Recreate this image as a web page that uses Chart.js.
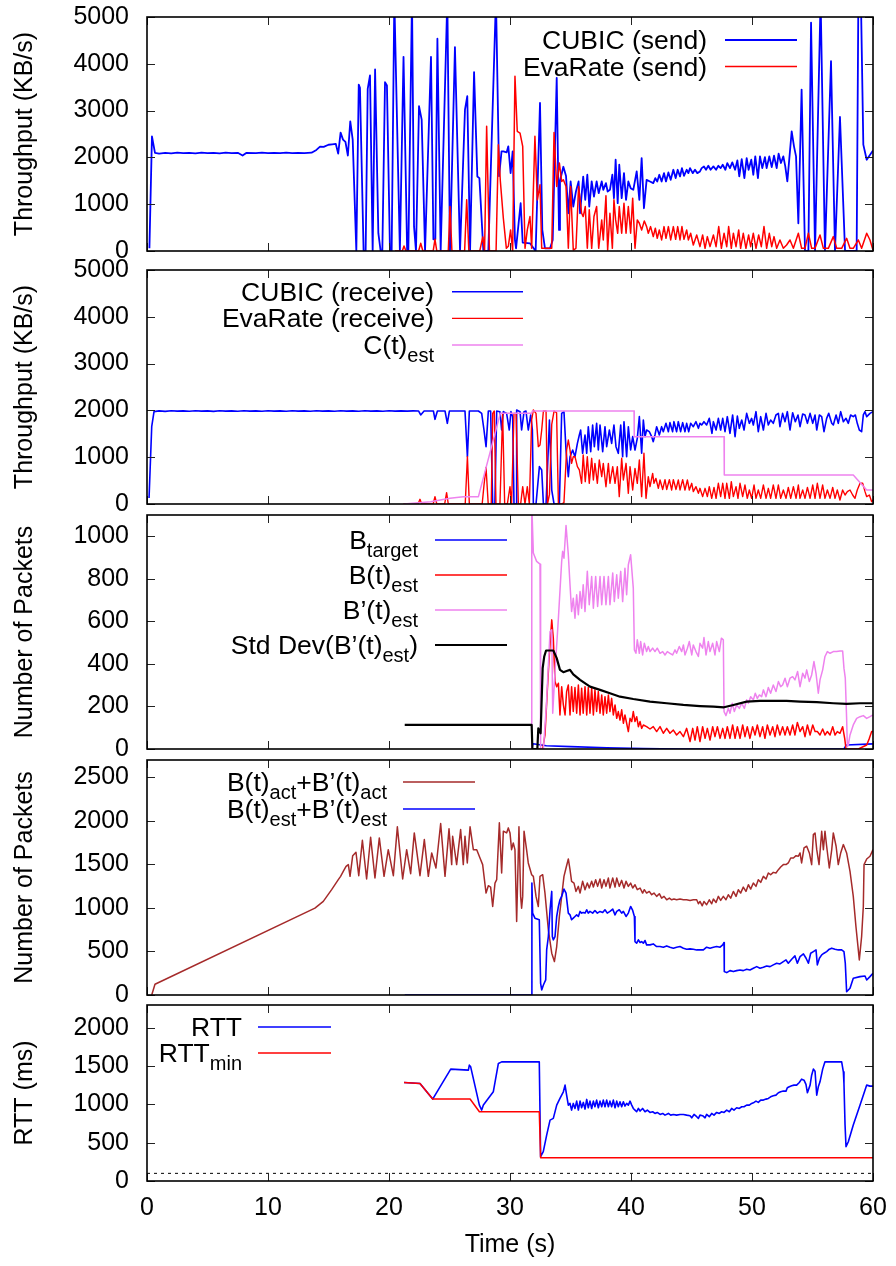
<!DOCTYPE html>
<html>
<head>
<meta charset="utf-8">
<script src="https://cdn.jsdelivr.net/npm/chart.js@4.4.1/dist/chart.umd.min.js"></script>
<style>
  html, body { margin: 0; padding: 0; background: #fff; }
  #wrap { position: relative; width: 896px; height: 1266px; overflow: hidden; }
  #wrap canvas { position: absolute; left: 0; }
</style>
</head>
<body>
<div id="wrap">
  <canvas id="p1" width="896" height="271" style="top:0px"></canvas>
  <canvas id="p2" width="896" height="274" style="top:250px"></canvas>
  <canvas id="p3" width="896" height="274" style="top:495px"></canvas>
  <canvas id="p4" width="896" height="275" style="top:740px"></canvas>
  <canvas id="p5" width="896" height="281" style="top:985px"></canvas>
</div>
<script>
// ---------- axis ticks ----------
const timeTicks = [0, 10, 20, 30, 40, 50, 60];
const yTicksThroughput = [0, 1000, 2000, 3000, 4000, 5000];
const yTicksBuffer = [0, 200, 400, 600, 800, 1000];
const yTicksSum = [0, 500, 1000, 1500, 2000, 2500];
const yTicksRtt = [0, 500, 1000, 1500, 2000];

// ---------- series: [time (s), value] ----------
// Sending rate (KB/s)
const cubicSend = [[0.2,60],[0.41,2450],[0.66,2095],[1.0,2080],[1.5,2095],[2.0,2085],[2.5,2100],[3.0,2090],[3.5,2098],[4.0,2088],[4.5,2100],[5.0,2090],[5.5,2098],[6.0,2088],[6.5,2100],[7.0,2090],[7.5,2098],[7.9,2040],[8.2,2095],[9.0,2090],[9.5,2100],[10.0,2090],[10.5,2098],[11.0,2090],[11.5,2100],[12.0,2092],[12.5,2098],[13.0,2090],[13.6,2100],[14.0,2160],[14.3,2230],[14.6,2225],[15.0,2270],[15.3,2280],[15.6,2290],[15.8,2080],[16.0,2530],[16.2,2380],[16.4,2330],[16.6,2040],[16.8,2770],[17.0,2380],[17.3,0],[17.5,3557],[17.6,3486],[17.9,0],[18.07,0],[18.24,3464],[18.43,3750],[18.65,0],[18.85,3879],[19.12,380],[19.31,0],[19.45,0],[19.67,3607],[19.83,3536],[20.08,0],[20.22,0],[20.44,5400],[20.9,0],[21.2,4150],[21.5,0],[21.6,0],[21.9,5400],[22.07,520],[22.23,0],[22.48,3093],[22.7,2807],[22.98,0],[23.47,4150],[23.67,250],[23.83,250],[24.0,4536],[24.27,0],[24.82,5400],[25.04,0],[25.45,4357],[25.87,0],[26.28,3022],[26.47,3307],[26.7,0],[27.03,3822],[27.3,1593],[27.47,1557],[27.8,0],[28.21,0],[28.84,5400],[29.1,1600],[29.3,2130],[29.45,2129],[29.72,2107],[29.86,2236],[30.05,1664],[30.22,2129],[30.41,230],[30.5,57],[30.88,1021],[31.05,179],[31.65,164],[32.12,0],[32.48,3164],[32.67,450],[32.89,57],[33.31,57],[33.53,236],[33.86,3700],[34.05,450],[34.13,1500],[34.41,1800],[34.63,1600],[34.82,807],[35.01,1486],[35.23,950],[35.45,1271],[35.67,1486],[35.79,807],[36.05,1590],[36.22,1093],[36.39,1629],[36.55,950],[36.75,1486],[36.94,1164],[37.16,1486],[37.33,1236],[37.58,1486],[37.71,1307],[37.93,1450],[38.07,1271],[38.26,1307],[38.46,1629],[38.59,1129],[38.73,1950],[38.9,1021],[39.03,1843],[39.23,1129],[39.42,1664],[39.59,1093],[39.78,1486],[39.97,1343],[40.19,1307],[40.47,1700],[40.69,1093],[40.88,1986],[41.07,914],[41.29,1521],[41.57,1486],[41.84,1450],[42.01,1557],[42.17,1486],[42.34,1629],[42.53,1486],[42.73,1664],[42.89,1486],[43.09,1679],[43.28,1521],[43.5,1736],[43.69,1557],[43.86,1736],[44.05,1593],[44.21,1771],[44.38,1607],[44.6,1736],[44.74,1664],[44.88,1771],[45.1,1664],[45.29,1736],[45.48,1664],[45.7,1700],[45.84,1771],[46.03,1807],[46.2,1736],[46.39,1821],[46.58,1736],[46.81,1807],[47.03,1736],[47.22,1821],[47.41,1771],[47.58,1843],[47.8,1736],[47.96,1879],[48.18,1771],[48.37,1893],[48.6,1736],[48.79,1936],[48.95,1593],[49.15,1964],[49.37,1557],[49.56,1986],[49.72,1736],[49.94,1950],[50.11,1629],[50.27,2021],[50.49,1557],[50.66,2021],[50.85,1771],[51.07,2007],[51.21,1771],[51.43,2021],[51.63,1793],[51.82,2036],[52.04,1771],[52.2,2079],[52.39,1879],[52.59,2021],[52.75,1807],[52.92,1486],[53.28,2557],[53.47,2236],[53.64,2021],[53.83,593],[54.1,3450],[54.38,0],[54.66,0],[54.88,4880],[55.21,0],[55.67,5400],[56.03,0],[56.53,4057],[56.86,0],[57.27,2865],[57.69,0],[58.65,0],[58.79,5400],[59.0,5400],[59.2,2272],[59.48,1950],[60.0,2150]];
const evaSend = [[20.5,0],[21.1,0],[21.24,107],[21.4,0],[22.45,0],[22.62,164],[22.8,0],[23.65,0],[23.8,250],[23.95,0],[24.9,0],[25.04,950],[25.2,0],[26.25,0],[26.42,1093],[26.6,0],[27.5,0],[27.75,300],[27.9,0],[28.07,2664],[28.3,0],[28.85,0],[29.04,2272],[29.2,1500],[29.45,700],[29.7,57],[29.86,100],[30.05,450],[30.22,0],[30.41,3736],[30.6,2557],[30.83,2520],[31.05,2236],[31.24,57],[31.43,450],[31.65,736],[31.79,57],[32.06,2450],[32.26,1093],[32.48,1414],[32.62,57],[33.45,57],[33.64,2530],[33.86,1379],[34.08,1879],[34.27,1486],[34.41,1521],[34.63,1379],[34.82,57],[35.01,1379],[35.23,21],[35.45,57],[35.67,1379],[35.92,807],[36.05,736],[36.22,950],[36.39,57],[36.55,879],[36.75,57],[36.94,736],[37.16,950],[37.33,57],[37.58,664],[37.71,236],[37.93,1179],[38.07,21],[38.26,807],[38.46,57],[38.59,1093],[38.73,664],[38.9,379],[39.03,950],[39.23,379],[39.42,1021],[39.59,379],[39.78,950],[39.97,379],[40.14,1129],[40.33,57],[40.52,664],[40.69,593],[40.88,450],[41.1,643],[41.29,521],[41.43,379],[41.62,521],[41.84,307],[42.01,486],[42.17,271],[42.34,450],[42.53,236],[42.73,521],[42.89,271],[43.09,521],[43.28,236],[43.5,521],[43.69,250],[43.86,521],[44.05,236],[44.21,521],[44.38,250],[44.6,450],[44.74,236],[44.93,379],[45.15,129],[45.43,343],[45.7,93],[45.92,343],[46.12,57],[46.31,307],[46.53,93],[46.81,343],[47.03,93],[47.25,521],[47.47,57],[47.69,379],[47.91,93],[48.07,521],[48.29,57],[48.46,379],[48.68,93],[48.9,450],[49.06,57],[49.28,379],[49.5,57],[49.72,343],[49.89,93],[50.11,379],[50.33,57],[50.55,343],[50.77,93],[50.99,521],[51.21,57],[51.43,379],[51.63,93],[51.82,307],[52.04,57],[52.31,236],[52.59,57],[52.86,129],[53.14,236],[53.42,57],[53.83,379],[54.1,57],[54.38,57],[54.66,379],[54.93,57],[55.21,57],[55.62,343],[55.9,57],[56.31,57],[56.72,307],[57.0,57],[57.41,57],[57.82,271],[58.1,57],[58.37,57],[58.79,236],[59.06,57],[59.48,379],[59.75,236],[60.0,21]];

// Receiving rate (KB/s)
const cubicRecv = [[0.17,130],[0.39,1652],[0.58,1973],[1.0,1990],[1.5,1980],[2.0,1992],[2.5,1985],[3.0,1990],[3.5,1982],[4.0,1992],[4.5,1985],[5.0,1990],[5.5,1980],[6.0,1992],[6.5,1985],[7.0,1990],[7.5,1983],[8.0,1992],[8.5,1985],[9.0,1990],[9.5,1982],[10.0,1992],[10.5,1985],[11.0,1990],[11.5,1983],[12.0,1992],[12.5,1985],[13.0,1990],[13.5,1983],[14.0,1992],[14.5,1985],[15.0,1990],[15.5,1983],[16.0,1992],[16.5,1985],[17.0,1990],[17.5,1983],[18.0,1992],[18.5,1985],[19.0,1990],[19.5,1983],[20.0,1992],[20.5,1985],[21.0,1990],[21.5,1985],[22.0,1990],[22.45,1987],[22.62,1902],[22.9,1987],[23.67,1987],[23.8,1809],[24.0,1987],[24.63,1987],[24.82,1724],[24.99,1987],[26.28,1987],[26.48,1011],[26.64,1987],[27.39,1987],[27.66,1937],[27.85,1581],[28.02,1225],[28.21,1987],[28.4,1987],[28.57,0],[28.75,0],[28.9,1987],[29.17,1973],[29.31,1581],[29.45,1973],[29.72,1937],[29.94,1581],[30.08,1973],[30.22,1866],[30.33,0],[30.5,0],[30.55,2009],[30.83,1973],[30.96,1581],[31.16,1973],[31.32,1987],[31.51,1581],[31.71,1902],[31.85,1581],[31.93,0],[32.15,0],[32.43,798],[32.62,727],[32.76,0],[32.98,0],[33.26,1795],[33.45,299],[33.64,0],[34.08,0],[34.27,1937],[34.46,1973],[34.63,1154],[34.82,584],[34.96,1011],[35.18,1154],[35.37,1011],[35.57,1296],[35.73,1475],[35.84,1581],[36.0,1083],[36.2,1475],[36.34,1083],[36.47,1652],[36.67,1118],[36.83,1688],[36.97,1225],[37.16,1724],[37.3,1154],[37.44,1688],[37.66,1118],[37.85,1652],[37.99,1225],[38.21,1581],[38.4,1296],[38.59,1688],[38.76,1225],[38.95,1083],[39.15,1688],[39.31,1011],[39.42,1759],[39.64,1011],[39.78,1652],[39.97,1154],[40.14,1439],[40.33,1154],[40.52,1403],[40.69,1866],[40.88,1083],[41.02,1795],[41.16,1439],[41.29,1581],[41.51,1545],[41.71,1439],[41.84,1332],[41.98,1475],[42.12,1652],[42.34,1475],[42.53,1652],[42.67,1545],[42.89,1724],[43.09,1545],[43.22,1738],[43.44,1545],[43.55,1759],[43.77,1545],[43.91,1759],[44.1,1545],[44.27,1738],[44.46,1545],[44.6,1724],[44.77,1545],[44.93,1724],[45.15,1652],[45.37,1759],[45.57,1617],[45.7,1724],[45.84,1688],[46.03,1759],[46.25,1688],[46.47,1830],[46.69,1510],[46.81,1759],[47.03,1581],[47.22,1830],[47.41,1581],[47.58,1830],[47.77,1545],[47.96,1866],[48.18,1510],[48.4,1902],[48.6,1439],[48.79,1880],[48.95,1617],[49.15,1795],[49.34,1581],[49.56,1937],[49.78,1724],[49.97,1830],[50.11,1688],[50.33,1973],[50.52,1545],[50.72,1866],[50.94,1581],[51.16,1937],[51.35,1688],[51.54,1795],[51.76,1724],[51.98,1902],[52.18,1937],[52.31,1652],[52.53,1937],[52.73,1759],[52.92,1973],[53.14,1581],[53.36,1951],[53.58,1759],[53.8,1902],[53.97,1652],[54.19,1923],[54.38,1902],[54.58,1724],[54.8,1937],[55.02,1724],[55.21,1902],[55.35,1581],[55.57,1902],[55.76,1866],[55.95,1545],[56.17,1830],[56.34,1937],[56.59,1724],[56.72,1688],[56.95,1902],[57.13,1724],[57.33,1973],[57.55,1759],[57.77,1830],[57.96,1724],[58.15,1902],[58.37,1866],[58.54,1902],[58.7,1724],[58.87,1581],[59.06,1545],[59.2,1902],[59.34,1973],[59.48,1866],[59.75,1937],[60.0,1973]];
const evaRecv = [[21.2,0],[22.4,0],[22.56,100],[22.7,0],[23.65,0],[23.8,157],[23.95,0],[24.6,0],[24.76,243],[24.9,0],[26.3,0],[26.48,1011],[26.64,0],[27.7,0],[27.85,400],[28.02,780],[28.2,0],[28.45,0],[28.57,1937],[28.7,1987],[28.84,0],[29.17,0],[29.39,1937],[29.56,0],[29.78,0],[30.0,370],[30.13,0],[30.33,1937],[30.5,1937],[30.69,0],[30.88,0],[31.05,370],[31.24,0],[31.43,370],[31.6,0],[31.79,1795],[31.93,2009],[32.15,1937],[32.34,1225],[32.48,1260],[32.62,1581],[32.76,1987],[32.98,1987],[33.1,0],[33.26,200],[33.45,1700],[33.64,1987],[33.85,1950],[34.0,0],[34.27,0],[34.46,30],[34.68,1154],[34.82,1367],[34.96,1154],[35.09,869],[35.23,1011],[35.37,1011],[35.57,798],[35.73,727],[35.92,442],[36.05,1047],[36.22,477],[36.39,1011],[36.55,442],[36.75,976],[36.89,513],[37.02,869],[37.22,442],[37.38,940],[37.58,584],[37.71,869],[37.93,370],[38.13,869],[38.26,442],[38.49,798],[38.68,442],[38.87,798],[39.03,157],[39.23,976],[39.37,513],[39.59,869],[39.78,228],[39.92,798],[40.14,299],[40.33,762],[40.52,442],[40.69,940],[40.88,157],[41.07,1083],[41.24,121],[41.43,584],[41.57,370],[41.79,655],[41.9,442],[42.06,548],[42.26,335],[42.4,513],[42.62,311],[42.81,520],[42.95,311],[43.17,520],[43.36,299],[43.5,520],[43.72,311],[43.91,513],[44.05,299],[44.27,520],[44.46,299],[44.66,513],[44.82,299],[45.02,442],[45.15,264],[45.37,370],[45.57,228],[45.7,335],[45.92,157],[46.12,335],[46.31,157],[46.47,370],[46.67,121],[46.86,356],[47.03,121],[47.22,442],[47.41,157],[47.58,442],[47.77,121],[47.91,442],[48.13,121],[48.29,477],[48.46,157],[48.68,370],[48.84,121],[49.01,442],[49.23,157],[49.42,406],[49.61,121],[49.78,299],[49.97,121],[50.17,406],[50.33,121],[50.52,299],[50.72,121],[50.94,406],[51.16,121],[51.35,335],[51.54,121],[51.76,406],[51.98,121],[52.18,406],[52.37,121],[52.59,299],[52.81,121],[53.0,356],[53.2,121],[53.42,370],[53.64,121],[53.83,406],[53.97,121],[54.19,299],[54.38,121],[54.58,356],[54.8,121],[55.02,406],[55.21,121],[55.4,442],[55.62,121],[55.84,406],[56.03,121],[56.23,299],[56.45,121],[56.67,356],[56.86,121],[57.05,299],[57.27,85],[57.49,299],[57.69,192],[57.88,264],[58.1,299],[58.32,192],[58.51,121],[58.7,299],[58.93,442],[59.15,442],[59.34,264],[59.48,157],[59.7,192],[59.89,50],[60.0,85]];
const capEst = [[21.24,0],[23.45,50],[25.04,121],[26.14,157],[27.39,157],[29.2,1937],[31.79,1937],[31.85,1987],[40.25,1987],[40.27,1439],[47.69,1439],[47.71,620],[58.37,620],[59.48,299],[60.0,299]];

// Buffer estimates (packets)
const bTarget = [[31.8,0],[31.9,25],[33.0,15],[35.0,11],[38.0,6],[41.0,2],[44.0,0],[57.6,0],[57.8,19],[60.0,24]];
const bEst = [[32.26,0],[32.7,0],[32.89,66],[33.08,270],[33.25,442],[33.45,607],[33.53,552],[33.58,521],[33.72,317],[33.86,293],[34.0,309],[34.13,160],[34.27,293],[34.41,207],[34.55,160],[34.68,270],[34.82,301],[34.96,160],[35.09,293],[35.23,176],[35.37,289],[35.51,168],[35.65,301],[35.79,160],[35.92,286],[36.05,168],[36.2,293],[36.34,160],[36.47,289],[36.61,168],[36.75,286],[36.89,160],[37.02,278],[37.16,176],[37.3,270],[37.44,168],[37.58,254],[37.71,160],[37.85,246],[37.99,168],[38.13,254],[38.26,176],[38.4,238],[38.54,160],[38.68,207],[38.82,144],[38.95,176],[39.09,136],[39.23,184],[39.37,121],[39.5,160],[39.64,121],[39.78,82],[39.92,144],[40.06,129],[40.19,176],[40.33,129],[40.47,152],[40.61,105],[40.75,129],[40.88,97],[41.02,113],[41.29,105],[41.57,94],[41.84,105],[42.12,82],[42.4,105],[42.67,74],[42.95,97],[43.22,74],[43.5,89],[43.77,66],[44.05,82],[44.33,58],[44.6,97],[44.88,35],[45.1,97],[45.29,42],[45.48,105],[45.7,35],[45.92,105],[46.12,50],[46.31,97],[46.53,42],[46.75,105],[46.94,58],[47.14,105],[47.36,50],[47.58,97],[47.77,50],[47.96,105],[48.18,50],[48.4,113],[48.6,50],[48.79,105],[49.01,50],[49.23,113],[49.42,58],[49.61,105],[49.83,50],[50.05,105],[50.25,66],[50.44,113],[50.66,58],[50.88,105],[51.07,50],[51.27,113],[51.49,66],[51.71,105],[51.9,58],[52.09,113],[52.31,66],[52.53,105],[52.73,66],[52.92,105],[53.14,66],[53.36,113],[53.55,66],[53.75,125],[53.97,82],[54.19,105],[54.38,58],[54.58,113],[54.8,66],[55.02,113],[55.21,82],[55.4,82],[55.62,66],[55.84,94],[56.03,66],[56.23,82],[56.45,66],[56.67,105],[56.86,66],[57.05,82],[57.27,74],[57.49,105],[57.66,50],[57.77,0],[58.79,0],[59.48,19],[59.7,50],[59.89,82],[60.0,82]];
const bPrimeEst = [[31.78,0],[31.8,1150],[31.93,921],[32.2,882],[32.48,869],[32.53,0],[32.76,0],[33.0,200],[33.31,552],[33.45,560],[33.53,168],[33.72,364],[34.0,615],[34.27,882],[34.35,929],[34.46,897],[34.63,1051],[34.82,913],[34.96,772],[35.09,646],[35.23,709],[35.37,615],[35.51,725],[35.65,631],[35.79,740],[35.92,662],[36.05,772],[36.2,646],[36.39,835],[36.55,678],[36.75,811],[36.89,662],[37.08,811],[37.24,670],[37.44,811],[37.58,678],[37.77,811],[37.93,678],[38.13,811],[38.26,678],[38.49,827],[38.62,693],[38.82,819],[38.95,709],[39.15,835],[39.31,693],[39.5,850],[39.64,725],[39.78,866],[39.97,913],[40.19,756],[40.28,466],[40.41,450],[40.52,513],[40.69,450],[40.8,505],[40.96,442],[41.1,497],[41.29,458],[41.43,482],[41.57,458],[41.79,474],[41.98,458],[42.17,474],[42.4,450],[42.62,458],[42.81,442],[43.0,458],[43.22,450],[43.44,442],[43.64,466],[43.77,450],[43.99,482],[44.19,458],[44.33,489],[44.46,442],[44.66,474],[44.82,505],[45.02,442],[45.15,489],[45.37,458],[45.57,435],[45.7,497],[45.92,474],[46.03,524],[46.2,442],[46.39,505],[46.53,458],[46.75,497],[46.94,442],[47.08,505],[47.3,458],[47.47,521],[47.63,513],[47.69,176],[47.85,157],[48.04,191],[48.18,168],[48.37,215],[48.54,176],[48.73,207],[48.95,191],[49.15,215],[49.37,191],[49.56,231],[49.7,215],[49.89,246],[50.11,231],[50.27,262],[50.44,238],[50.61,254],[50.8,246],[50.94,278],[51.16,246],[51.35,289],[51.54,262],[51.76,301],[51.98,270],[52.18,317],[52.37,293],[52.53,301],[52.73,333],[52.92,293],[53.14,333],[53.36,340],[53.55,325],[53.77,364],[53.97,293],[54.19,356],[54.38,333],[54.52,372],[54.74,317],[54.93,348],[55.12,411],[55.29,356],[55.48,262],[55.62,325],[55.84,372],[56.03,435],[56.23,458],[56.45,450],[56.72,458],[56.99,458],[57.27,461],[57.49,461],[57.6,380],[57.71,333],[57.82,144],[57.88,11],[57.96,19],[58.1,66],[58.37,113],[58.65,144],[58.93,152],[59.2,157],[59.48,144],[59.75,152],[60.0,160]];
const bPrimeStd = [[21.3,113],[31.79,113],[31.85,0],[32.26,0],[32.34,97],[32.53,74],[32.7,380],[32.83,435],[32.98,463],[33.58,463],[33.86,427],[34.13,372],[34.41,361],[34.68,367],[34.96,372],[35.23,351],[35.79,325],[36.61,293],[37.44,278],[38.26,262],[39.09,246],[40.19,235],[41.57,223],[42.95,215],[44.33,207],[45.7,202],[46.81,199],[47.69,196],[48.46,207],[49.56,223],[50.66,226],[51.76,226],[52.86,226],[53.97,223],[55.35,220],[56.72,215],[57.82,212],[58.93,215],[60.0,215]];

// Total buffered packets
const sumAct = [[0.39,0],[0.66,123],[13.88,998],[14.57,1075],[15.26,1210],[15.81,1325],[16.0,1363],[16.22,1421],[16.45,1478],[16.64,1498],[16.78,1363],[17.0,1601],[17.27,1640],[17.5,1371],[17.8,1778],[18.15,1333],[18.48,1813],[18.84,1344],[19.2,1805],[19.59,1363],[19.94,1670],[20.36,1371],[20.69,1932],[21.13,1333],[21.46,1670],[21.79,1394],[22.09,1862],[22.56,1371],[22.92,1786],[23.25,1363],[23.53,1632],[23.88,1459],[24.27,1970],[24.63,1363],[24.96,1909],[25.18,1498],[25.26,1824],[25.59,1498],[25.92,1901],[26.14,1498],[26.28,1824],[26.47,1517],[26.7,1932],[26.97,1670],[27.25,1670],[27.52,1574],[27.74,1498],[28.02,1171],[28.21,1256],[28.4,1240],[28.57,1017],[28.76,1286],[28.9,1325],[29.12,1978],[29.31,1402],[29.45,1882],[29.72,1862],[29.86,1920],[30.0,1862],[30.13,1670],[30.27,1747],[30.41,1670],[30.55,845],[30.74,1932],[30.88,1133],[30.96,998],[31.05,1133],[31.16,1882],[31.37,1670],[31.51,1517],[31.79,1382],[31.93,1363],[32.15,1133],[32.34,1017],[32.48,1363],[32.7,1382],[32.89,1171],[33.17,749],[33.45,480],[33.67,384],[33.86,557],[34.08,902],[34.27,1133],[34.46,1363],[34.63,1459],[34.82,1563],[34.96,1440],[35.09,1306],[35.29,1286],[35.45,1190],[35.65,1248],[35.79,1171],[36.0,1306],[36.2,1210],[36.39,1286],[36.55,1229],[36.75,1306],[36.89,1240],[37.08,1325],[37.24,1248],[37.44,1333],[37.58,1229],[37.77,1325],[37.93,1248],[38.13,1344],[38.26,1229],[38.49,1344],[38.68,1240],[38.82,1344],[39.03,1248],[39.23,1317],[39.42,1229],[39.59,1306],[39.78,1248],[39.97,1286],[40.14,1229],[40.33,1267],[40.52,1210],[40.75,1229],[40.96,1171],[41.1,1210],[41.29,1171],[41.51,1190],[41.71,1152],[41.9,1171],[42.12,1133],[42.34,1164],[42.53,1113],[42.73,1133],[42.95,1094],[43.17,1113],[43.36,1094],[43.55,1102],[43.77,1094],[44.05,1102],[44.33,1094],[44.6,1094],[44.88,1087],[45.15,1094],[45.43,1094],[45.57,1048],[45.7,1075],[45.89,1025],[46.03,1075],[46.25,1037],[46.47,1094],[46.67,1048],[46.81,1102],[47.03,1063],[47.22,1133],[47.41,1087],[47.63,1133],[47.85,1094],[48.04,1152],[48.24,1113],[48.46,1190],[48.68,1133],[48.87,1210],[49.06,1171],[49.28,1240],[49.5,1190],[49.7,1267],[49.89,1217],[50.11,1286],[50.33,1248],[50.52,1325],[50.72,1294],[50.94,1363],[51.16,1333],[51.35,1402],[51.54,1382],[51.76,1409],[51.98,1402],[52.18,1440],[52.37,1471],[52.59,1498],[52.81,1498],[53.0,1517],[53.2,1574],[53.42,1574],[53.64,1601],[53.83,1594],[53.97,1632],[54.1,1517],[54.3,1690],[54.52,1709],[54.74,1632],[54.93,1498],[55.07,1843],[55.21,1862],[55.35,1670],[55.54,1498],[55.76,1882],[55.9,1670],[56.03,1882],[56.17,1709],[56.39,1459],[56.59,1670],[56.72,1862],[56.95,1709],[57.13,1498],[57.33,1632],[57.55,1728],[57.82,1632],[58.1,1421],[58.37,1133],[58.59,787],[58.87,403],[59.06,672],[59.2,1017],[59.26,1498],[59.48,1563],[59.75,1594],[60.0,1670]];
const sumEst = [[21.3,0],[31.79,0],[31.81,1286],[31.87,941],[32.06,883],[32.42,864],[32.53,134],[32.62,58],[32.76,115],[32.95,173],[33.03,518],[33.17,672],[33.31,979],[33.45,1190],[33.5,672],[33.58,634],[33.72,672],[33.86,902],[34.0,1017],[34.13,1094],[34.27,1133],[34.46,1217],[34.63,1171],[34.82,941],[34.96,921],[35.09,864],[35.23,883],[35.37,902],[35.51,921],[35.65,902],[35.79,960],[35.92,941],[36.05,948],[36.2,941],[36.34,979],[36.47,941],[36.61,960],[36.83,941],[37.02,971],[37.22,941],[37.44,960],[37.66,948],[37.85,979],[38.04,941],[38.26,960],[38.49,987],[38.68,921],[38.82,960],[39.03,979],[39.23,941],[39.37,960],[39.59,902],[39.78,941],[39.97,1017],[40.14,971],[40.28,902],[40.33,614],[40.47,595],[40.61,634],[40.75,603],[40.88,614],[41.02,595],[41.16,626],[41.29,576],[41.57,576],[41.84,587],[42.12,557],[42.4,557],[42.67,549],[42.95,564],[43.22,549],[43.5,538],[43.77,549],[44.05,557],[44.33,538],[44.6,526],[44.88,530],[45.15,526],[45.43,518],[45.7,518],[45.98,518],[46.25,549],[46.53,538],[46.81,549],[47.08,557],[47.36,549],[47.58,576],[47.69,603],[47.71,269],[47.91,257],[48.18,280],[48.46,269],[48.73,280],[49.01,288],[49.28,280],[49.56,296],[49.83,288],[50.11,307],[50.39,326],[50.66,307],[50.94,319],[51.21,334],[51.49,326],[51.76,346],[52.04,365],[52.31,357],[52.59,384],[52.81,403],[53.0,365],[53.28,411],[53.55,449],[53.75,365],[53.97,441],[54.25,472],[54.47,422],[54.66,365],[54.85,480],[55.07,499],[55.29,518],[55.4,346],[55.57,422],[55.76,461],[55.95,480],[56.17,499],[56.39,526],[56.59,538],[56.86,526],[57.13,518],[57.41,518],[57.6,499],[57.71,365],[57.82,38],[58.1,77],[58.37,192],[58.93,211],[59.34,219],[59.48,173],[59.75,211],[60.0,250]];

// Round-trip time (ms)
const rtt = [[21.24,1288],[22.56,1275],[23.61,1071],[25.1,1462],[26.56,1449],[26.64,1514],[26.75,1492],[27.47,992],[27.66,927],[27.8,992],[28.62,1166],[29.04,1536],[29.31,1557],[32.42,1557],[32.53,317],[32.75,383],[33.03,600],[33.31,796],[33.58,818],[33.86,992],[34.13,1079],[34.41,1166],[34.55,1253],[34.68,1122],[34.82,992],[34.96,1014],[35.09,927],[35.23,1014],[35.37,948],[35.51,1044],[35.65,927],[35.79,1044],[35.92,957],[36.06,1027],[36.2,940],[36.34,1066],[36.47,957],[36.61,1044],[36.75,948],[36.89,1044],[37.02,970],[37.16,1057],[37.3,957],[37.44,1044],[37.58,970],[37.71,1057],[37.85,970],[37.99,1057],[38.13,970],[38.26,1044],[38.4,970],[38.54,1057],[38.68,957],[38.82,1044],[38.95,970],[39.09,1035],[39.23,970],[39.37,1035],[39.5,979],[39.64,1014],[39.78,992],[39.92,1044],[40.06,992],[40.19,948],[40.33,927],[40.47,905],[40.61,948],[40.75,914],[40.96,948],[41.16,905],[41.35,927],[41.57,896],[41.79,905],[41.98,883],[42.17,896],[42.4,870],[42.62,883],[42.81,861],[43.09,883],[43.28,861],[43.5,870],[43.77,861],[44.05,870],[44.33,870],[44.6,861],[44.88,853],[45.02,826],[45.21,870],[45.43,840],[45.57,818],[45.7,861],[45.92,853],[46.12,826],[46.25,870],[46.47,840],[46.67,883],[46.86,861],[47.08,896],[47.3,883],[47.49,905],[47.69,896],[47.91,927],[48.13,905],[48.32,948],[48.51,927],[48.73,957],[48.95,948],[49.15,970],[49.34,970],[49.56,992],[49.78,992],[49.97,1014],[50.17,1027],[50.33,1044],[50.52,1027],[50.72,1057],[50.94,1057],[51.16,1070],[51.35,1079],[51.54,1100],[51.76,1114],[51.98,1122],[52.18,1153],[52.37,1166],[52.59,1175],[52.81,1175],[52.92,1218],[53.08,1231],[53.28,1244],[53.47,1253],[53.69,1253],[53.91,1288],[54.1,1331],[54.3,1318],[54.46,1262],[54.58,1153],[54.8,1253],[54.93,1383],[55.07,1462],[55.21,1435],[55.35,1122],[55.48,1231],[55.62,1296],[55.84,1462],[56.03,1557],[57.41,1557],[57.55,1427],[57.6,1275],[57.69,731],[57.77,448],[57.96,513],[58.37,731],[58.93,992],[59.48,1253],[59.75,1240],[60.0,1240]];
const rttMin = [[21.24,1288],[22.56,1275],[23.61,1071],[26.7,1071],[27.47,905],[32.42,905],[32.53,305],[60.0,305]];
const rttFloor = [[0,100],[60,100]];

// ---------- drawing ----------
const FONT = "'Liberation Sans', Arial, Helvetica, sans-serif";
const tickFont = { family: FONT, size: 25 };
const KEY_FONT = 26.5, KEY_SUB_FONT = 20;
const BLUE = '#0000ff', RED = '#ff0000', VIOLET = '#ee82ee', BLACK = '#000000', BROWN = '#a52a2a';

// inward tick marks on all four sides plus the plot border
const framePlugin = {
  id: 'frame',
  afterDraw(chart) {
    const { ctx, chartArea: { left, right, top, bottom }, scales: { x, y } } = chart;
    ctx.save();
    ctx.strokeStyle = '#222';
    ctx.lineWidth = 1;
    ctx.beginPath();
    y.ticks.forEach(t => {
      const py = Math.round(y.getPixelForValue(t.value)) + 0.5;
      ctx.moveTo(left, py); ctx.lineTo(left + 8, py);
      ctx.moveTo(right, py); ctx.lineTo(right - 8, py);
    });
    x.ticks.forEach(t => {
      const px = Math.round(x.getPixelForValue(t.value)) + 0.5;
      ctx.moveTo(px, bottom); ctx.lineTo(px, bottom - 8);
      ctx.moveTo(px, top); ctx.lineTo(px, top + 8);
    });
    ctx.stroke();
    ctx.strokeStyle = '#000';
    ctx.lineWidth = 1.6;
    ctx.strokeRect(left, top, right - left, bottom - top);
    ctx.restore();
  }
};

// key with subscripts: text right-aligned, sample line to its right
const keyPlugin = {
  id: 'subKey',
  afterDraw(chart, args, opts) {
    if (!opts || !opts.textRight) return;
    const { ctx, chartArea } = chart;
    ctx.save();
    ctx.textBaseline = 'alphabetic';
    ctx.fillStyle = '#000';
    const fontOf = sub => (sub ? KEY_SUB_FONT : KEY_FONT) + 'px ' + FONT;
    let row = 0;
    chart.data.datasets.forEach(ds => {
      if (!ds.keyParts) return;
      const y = chartArea.top + opts.firstRow + row * opts.rowGap;
      let w = 0;
      ds.keyParts.forEach(([txt, sub]) => { ctx.font = fontOf(sub); w += ctx.measureText(txt).width; });
      let x = opts.textRight - w;
      ds.keyParts.forEach(([txt, sub]) => {
        ctx.font = fontOf(sub);
        ctx.fillText(txt, x, y + 9 + (sub ? 8 : 0));
        x += ctx.measureText(txt).width;
      });
      ctx.strokeStyle = ds.borderColor;
      ctx.lineWidth = ds.borderWidth;
      ctx.beginPath();
      ctx.moveTo(opts.lineStart, y);
      ctx.lineTo(opts.lineEnd, y);
      ctx.stroke();
      row++;
    });
    ctx.restore();
  }
};

function series(points, color, width, keyParts, extra) {
  return Object.assign({
    data: points.map(([x, y]) => ({ x, y })),
    borderColor: color,
    borderWidth: width,
    pointRadius: 0,
    fill: false,
    tension: 0,
    borderJoinStyle: 'round',
    keyParts: keyParts
  }, extra || {});
}

function panel(id, p) {
  const n = p.datasets.length;
  // later series are painted over earlier ones
  p.datasets.forEach((d, i) => { d.order = n - i; });
  return new Chart(document.getElementById(id), {
    type: 'line',
    data: { datasets: p.datasets },
    options: {
      responsive: false,
      animation: false,
      devicePixelRatio: 1,
      events: [],
      layout: { padding: { top: p.padTop, bottom: p.padBottom, left: 0, right: 23 } },
      plugins: {
        legend: { display: false },
        tooltip: { enabled: false },
        subKey: p.key
      },
      scales: {
        x: {
          type: 'linear', min: 0, max: 60,
          display: !!p.showX,
          afterBuildTicks: s => { s.ticks = timeTicks.map(v => ({ value: v })); },
          afterFit: s => {
            if (p.showX) s.height = 85;
            s.paddingLeft = 0; s.paddingRight = 0;
          },
          grid: { display: false, drawTicks: false },
          border: { display: false },
          ticks: { color: '#000', font: tickFont, padding: 12, maxRotation: 0, autoSkip: false, callback: v => String(v) },
          title: { display: !!p.showX, text: 'Time (s)', color: '#000', font: tickFont, padding: { top: 0, bottom: 6 } }
        },
        y: {
          type: 'linear', min: 0, max: p.yMax,
          afterBuildTicks: s => { s.ticks = p.yTicks.map(v => ({ value: v })); },
          afterFit: s => {
            s.width = 147;
            s.paddingTop = 0; s.paddingBottom = 0;
          },
          grid: { display: false, drawTicks: false },
          border: { display: false },
          ticks: { color: '#000', font: tickFont, padding: 18, callback: v => String(v) },
          title: { display: true, text: p.yTitle, color: '#000', font: tickFont, padding: { top: 10, bottom: 0 } }
        }
      }
    },
    plugins: [framePlugin, keyPlugin]
  });
}

panel('p1', {
  padTop: 17, padBottom: 20, yMax: 5000, yTicks: yTicksThroughput, yTitle: 'Throughput (KB/s)',
  key: { textRight: 707, lineStart: 725, lineEnd: 797, firstRow: 23, rowGap: 26.5 },
  datasets: [
    series(cubicSend, BLUE, 1.8, [['CUBIC (send)', 0]]),
    series(evaSend, RED, 1.5, [['EvaRate (send)', 0]])
  ]
});

panel('p2', {
  padTop: 20, padBottom: 20, yMax: 5000, yTicks: yTicksThroughput, yTitle: 'Throughput (KB/s)',
  key: { textRight: 434, lineStart: 452, lineEnd: 523, firstRow: 21.7, rowGap: 26.7 },
  datasets: [
    series(cubicRecv, BLUE, 1.6, [['CUBIC (receive)', 0]]),
    series(evaRecv, RED, 1.4, [['EvaRate (receive)', 0]]),
    series(capEst, VIOLET, 1.5, [['C(t)', 0], ['est', 1]])
  ]
});

panel('p3', {
  padTop: 20, padBottom: 20, yMax: 1100, yTicks: yTicksBuffer, yTitle: 'Number of Packets',
  key: { textRight: 418, lineStart: 435, lineEnd: 507, firstRow: 25, rowGap: 35 },
  datasets: [
    series(bTarget, BLUE, 1.6, [['B', 0], ['target', 1]]),
    series(bEst, RED, 1.5, [['B(t)', 0], ['est', 1]]),
    series(bPrimeEst, VIOLET, 1.5, [['B’(t)', 0], ['est', 1]]),
    series(bPrimeStd, BLACK, 2.2, [['Std Dev(B’(t)', 0], ['est', 1], [')', 0]])
  ]
});

panel('p4', {
  padTop: 20, padBottom: 20, yMax: 2700, yTicks: yTicksSum, yTitle: 'Number of Packets',
  key: { textRight: 387, lineStart: 403, lineEnd: 475, firstRow: 22, rowGap: 27 },
  datasets: [
    series(sumAct, BROWN, 1.5, [['B(t)', 0], ['act', 1], ['+B’(t)', 0], ['act', 1]]),
    series(sumEst, BLUE, 1.6, [['B(t)', 0], ['est', 1], ['+B’(t)', 0], ['est', 1]])
  ]
});

panel('p5', {
  padTop: 20, padBottom: 0, yMax: 2300, yTicks: yTicksRtt, yTitle: 'RTT (ms)', showX: true,
  key: { textRight: 242, lineStart: 258, lineEnd: 331, firstRow: 22, rowGap: 26 },
  datasets: [
    series(rtt, BLUE, 1.6, [['RTT', 0]]),
    series(rttMin, RED, 1.5, [['RTT', 0], ['min', 1]]),
    series(rttFloor, BLACK, 1, null, { borderDash: [3, 4] })
  ]
});
</script>
</body>
</html>
